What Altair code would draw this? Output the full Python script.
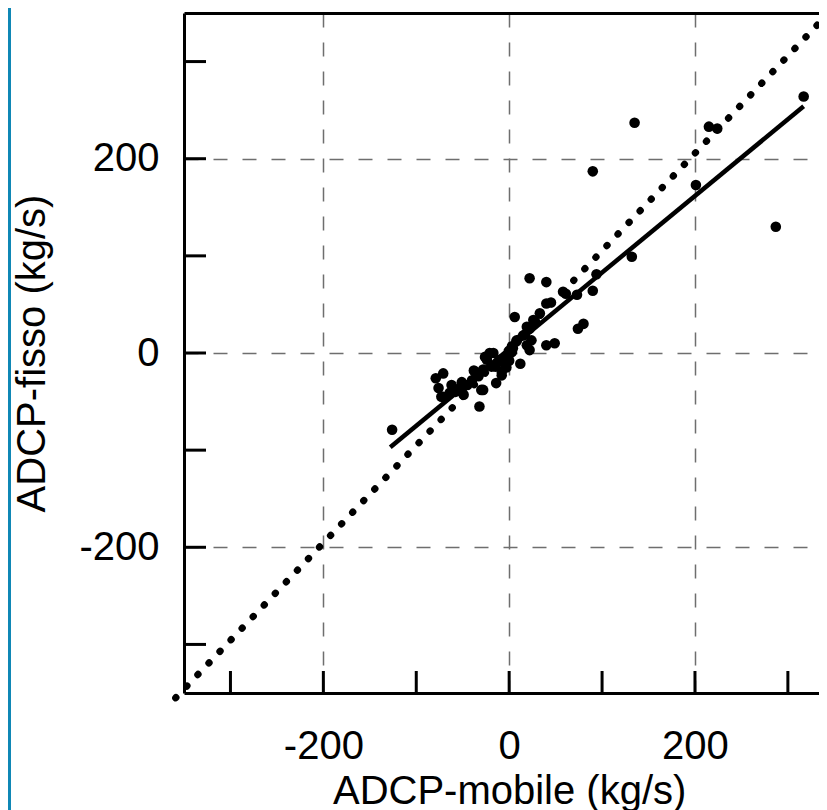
import altair as alt
import pandas as pd

# ---- data ----
pts_x = [-126, -79, -71, -76, -73, -71, -64, -62, -58, -51, -51, -49, -53,
         -45, -40, -38, -37, -33, -28, -30, -28, -32,
         -21, -17, -24, -26, -24, -19, -15, -14,
         -10, -5, -8, -8, -1, -3, 0,
         4, 3, 3, 8, 8, 15, 17, 12,
         19, 22, 24, 22, 26, 19, 28,
         6, 33,
         22, 40, 40, 45, 40, 49,
         58, 61, 73, 74, 80,
         90, 94, 90, 132, 135,
         201, 215, 224, 287, 317]
pts_y = [-79, -26, -21, -36, -45, -45, -41, -33, -40, -30, -40, -43, -36,
         -33, -28, -18, -19, -24, -17, -38, -38, -55,
         0, 0, -7, -4, -4, -14, -14, -31,
         -7, -11, -19, -23, -4, -15, -8,
         5, 1, 7, 12, 13, 18, 19, -11,
         8, 3, 13, 25, 34, 27, 32,
         37, 41,
         77, 73, 51, 52, 8, 10,
         63, 61, 60, 25, 30,
         64, 81, 187, 99, 237,
         173, 233, 231, 130, 264]

fit_x = [-128, 317]
fit_y = [-97, 254]

ref_x = [-359, 332]
ref_y = [-355, 338]

tick_vals = [-300, -200, -100, 0, 100, 200, 300]
label_vals = [-200, 0, 200]

x_title = "ADCP-mobile (kg/s)"
y_title = "ADCP-fisso (kg/s)"

W, H = 635, 680
X_MAX = 333.5
FONT = "Liberation Sans"

xs = alt.Scale(domain=[-350, X_MAX], nice=False, zero=False)
ys = alt.Scale(domain=[-350, 350], nice=False, zero=False)

pts = pd.DataFrame({"x": pts_x, "y": pts_y})
fit = pd.DataFrame({"x": fit_x, "y": fit_y})
ref = pd.DataFrame({"x": ref_x, "y": ref_y})
ticks = pd.DataFrame({"v": tick_vals})

grid_kw = dict(grid=True, gridDash=[14, 15], gridColor="#6e6e6e", gridWidth=1.5,
               ticks=False, tickSize=0, domain=True, domainColor="black",
               domainWidth=3, labelFont=FONT, labelFontSize=40, labelColor="black",
               labelExpr="'' + datum.value", labelFlush=False, labelOverlap=False,
               titleFont=FONT, titleFontSize=40, titleFontWeight="normal",
               titleColor="black")

points = alt.Chart(pts).mark_circle(size=112, color="black", opacity=1).encode(
    x=alt.X("x:Q", scale=xs,
            axis=alt.Axis(values=label_vals, orient="bottom", labelPadding=33,
                          title=x_title, titleX=W * 350 / (350 + X_MAX),
                          titleY=110, titleBaseline="alphabetic",
                          **grid_kw)),
    y=alt.Y("y:Q", scale=ys,
            axis=alt.Axis(values=label_vals, orient="left", labelPadding=25,
                          title=y_title, titleX=-140, titleY=H / 2,
                          titleAngle=270, titleBaseline="alphabetic",
                          **grid_kw)),
)

fit_line = alt.Chart(fit).mark_line(color="black", strokeWidth=4.5).encode(
    x=alt.X("x:Q", scale=xs,
            axis=alt.Axis(orient="top", domain=True, domainColor="black",
                          domainWidth=3, labels=False, ticks=False, grid=False,
                          title=None)),
    y=alt.Y("y:Q", scale=ys, axis=None),
)

ref_line = alt.Chart(ref).mark_line(color="black", strokeWidth=7,
                                    strokeDash=[0.5, 15.52],
                                    strokeCap="round").encode(
    x=alt.X("x:Q", scale=xs, axis=None),
    y=alt.Y("y:Q", scale=ys, axis=None),
)

x_ticks = alt.Chart(ticks).mark_rule(color="black", strokeWidth=3).encode(
    x=alt.X("v:Q", scale=xs, axis=None),
    y=alt.value(H),
    y2=alt.value(H - 22),
)

y_ticks = alt.Chart(ticks).mark_rule(color="black", strokeWidth=3).encode(
    y=alt.Y("v:Q", scale=ys, axis=None),
    x=alt.value(0),
    x2=alt.value(22),
)

side_bar = alt.Chart(pd.DataFrame({"a": [0]})).mark_rule(
    color="#0f87b5", strokeWidth=3).encode(
    x=alt.value(-174.5),
    y=alt.value(-5),
    y2=alt.value(H + 117),
)

chart = alt.layer(side_bar, x_ticks, y_ticks, ref_line, fit_line, points).resolve_axis(
    x="independent", y="independent"
).properties(
    width=W, height=H,
    autosize=alt.AutoSizeParams(type="none"),
    padding={"left": 176, "top": 5, "right": 0, "bottom": 117},
).configure_view(stroke=None)

chart.save("out.html", embed_options={"renderer": "svg", "actions": False})
